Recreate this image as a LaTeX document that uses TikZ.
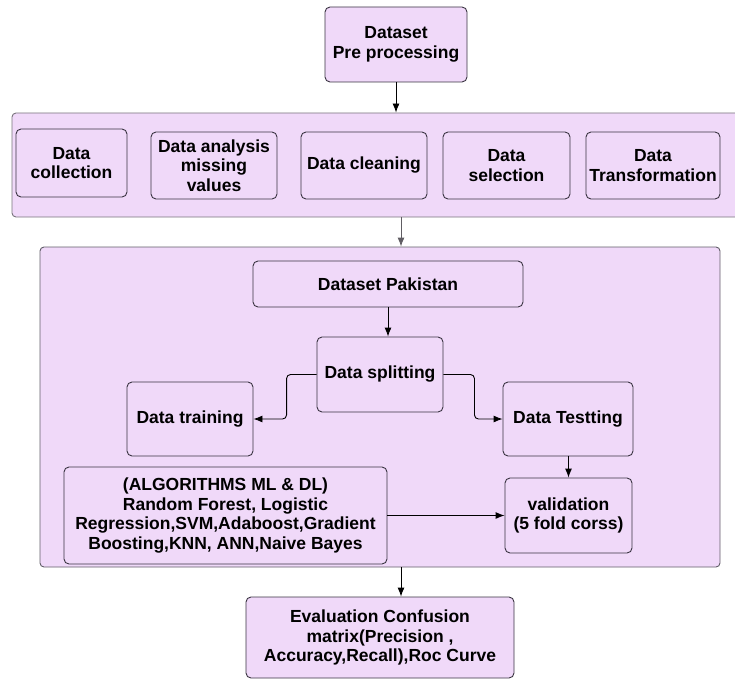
\documentclass[tikz,border=0pt]{standalone}
\usepackage{fontspec}
\setmainfont{Liberation Sans}
\usetikzlibrary{arrows.meta}
\definecolor{lav}{RGB}{240,217,249}
\definecolor{edge}{RGB}{58,52,66}
\definecolor{grpedge}{RGB}{120,116,124}
\tikzset{
  box/.style={draw=edge, fill=lav, rounded corners=5pt, align=center, inner sep=0pt,
    font=\fontsize{17.5}{19.5}\selectfont\bfseries, text=black},
  group/.style={draw=grpedge, fill=lav, rounded corners=4pt, inner sep=0pt},
}
\begin{document}
\begin{tikzpicture}[x=1pt, y=-1pt, >={Latex[length=9pt,width=7pt]}, line width=0.9pt]
            \useasboundingbox (0,0) rectangle (735,679);
            % Groups
            \node[group, minimum width=728, minimum height=104] (g1) at (376,165) {};
            \node[group, draw=edge!80, minimum width=680, minimum height=320] (g2) at (380,407) {};

            % Pre processing
            \node[box, minimum width=142, minimum height=75] (pre) at (396,44.5) {Dataset\\Pre processing};
            \node[box, minimum width=111, minimum height=68] (dcol) at (71.5,163) {Data\\collection};
            \node[box, minimum width=126, minimum height=67] (dana) at (214,165.5) {Data analysis\\missing\\values};
            \node[box, minimum width=126, minimum height=67] (dcln) at (364,165.5) {Data cleaning};
            \node[box, minimum width=127, minimum height=67] (dsel) at (506.5,165.5) {Data\\selection};
            \node[box, minimum width=134, minimum height=67] (dtra) at (653,165.5) {Data\\Transformation};

            % Models
            \node[box, minimum width=270, minimum height=46] (pak) at (388,284) {Dataset Pakistan};
            \node[box, minimum width=126, minimum height=75] (split) at (380,374.5) {Data splitting};
            \node[box, minimum width=126, minimum height=74] (train) at (190,419) {Data training};
            \node[box, minimum width=130, minimum height=74] (test) at (568,419) {Data Testting};
            \node[box, minimum width=323, minimum height=97] (alg) at (225.5,515.5) {(ALGORITHMS ML \& DL)\\Random Forest, Logistic\\Regression,SVM,Adaboost,Gradient\\Boosting,KNN, ANN,Naive Bayes};
            \node[box, minimum width=127, minimum height=75] (valid) at (568.5,515.5) {validation\\(5 fold corss)};
            \node[box, minimum width=268, minimum height=81] (eval) at (380,637.5) {Evaluation Confusion\\matrix(Precision ,\\Accuracy,Recall),Roc Curve};

            \coordinate (c1) at (401,0);

            % Flow
            \draw[->] (pre.south) -- (pre.south |- g1.north);
            \draw[->, grpedge!80!black] (g1.south -| c1) -- (g2.north -| c1);
            \draw[->] (pak.south) -- (pak.south |- split.north);
            \draw[->, rounded corners=4pt] (split.west) -- ++(-30,0) |- (train.east);
            \draw[->, rounded corners=4pt] (split.east) -- ++(31,0) |- (test.west);
            \draw[->] (test.south -| valid.north) -- (valid.north);
            \draw[->] (alg.east) -- (valid.west);
            \draw[->] (g2.south -| c1) -- (eval.north -| c1);

        \end{tikzpicture}
\end{document}
